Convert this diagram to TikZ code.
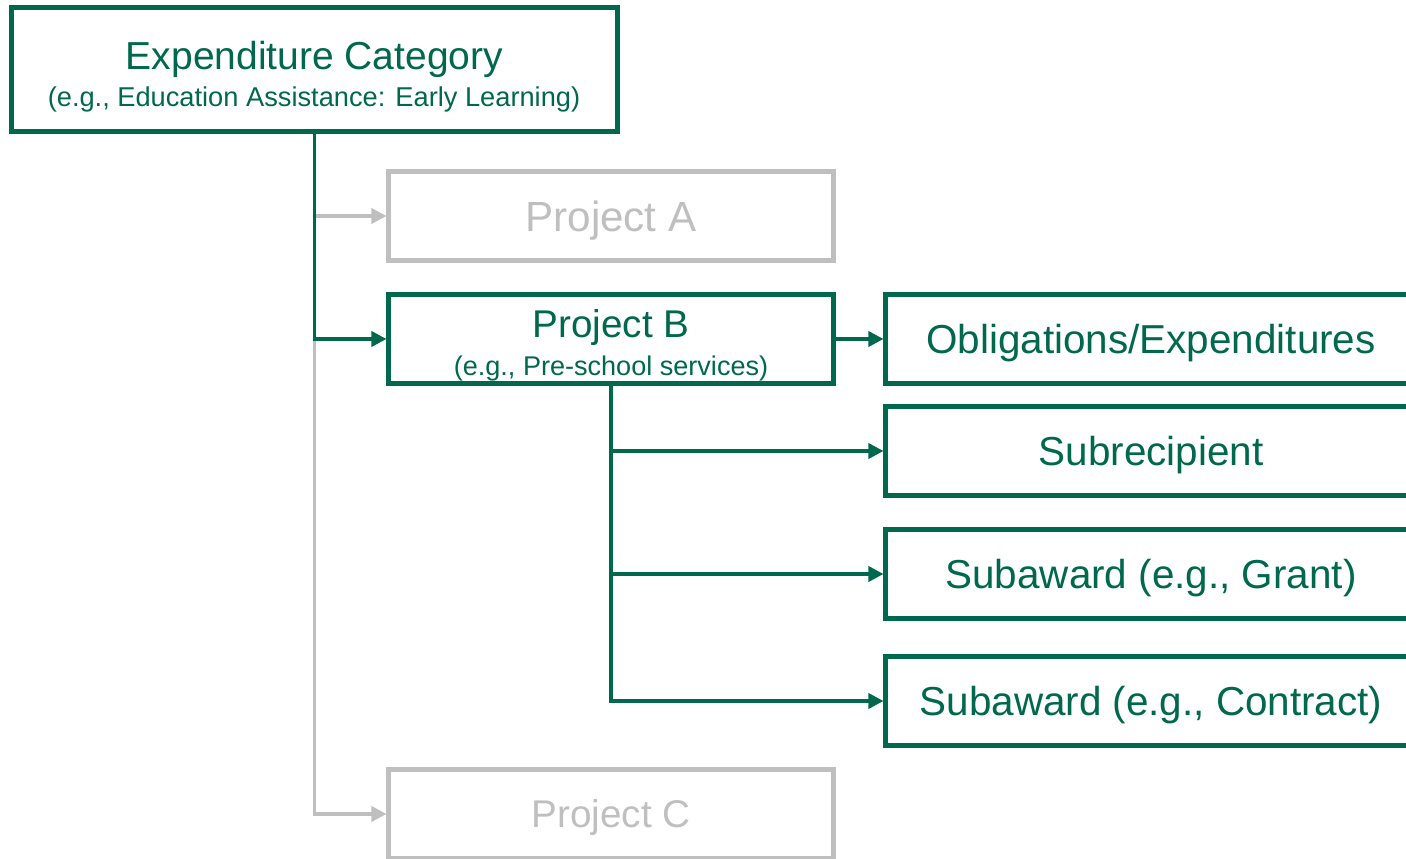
\documentclass[tikz,border=0pt]{standalone}
\usepackage{fontspec}
\setmainfont{Liberation Sans}
\usepackage{tikz}
\usetikzlibrary{arrows.meta,positioning}
\definecolor{darkgreen}{RGB}{0,104,76}
\definecolor{lightgrey}{RGB}{191,191,191}

\begin{document}
\begin{tikzpicture}[
    box/.style={draw, line width=2.3pt, minimum width=8.9cm, minimum height=1.78cm, inner sep=0pt, text depth=0pt},
    greenbox/.style={box, draw=darkgreen, text=darkgreen},
    greybox/.style={box, draw=lightgrey, text=lightgrey},
    rightbox/.style={greenbox, minimum width=10.62cm, text height=16.5pt, font=\fontsize{23}{27}\selectfont},
    link/.style={line width=2pt, -{Triangle[length=0.3cm, width=0.3cm]}}]
      \useasboundingbox (0, 0) rectangle (28.12, -17.18);
      \clip (0, 0) rectangle (28.12, -17.18);

      % boxes
      \node[greenbox, minimum width=12.12cm, minimum height=2.48cm] (exp) at (6.29, -1.39) {};
      \node[greybox, text height=17.2pt, font=\fontsize{24}{28}\selectfont] (pa) at (12.22, -4.32) {Project A};
      \node[greenbox] (pb) at (12.22, -6.78) {};
      \node[greybox, text height=15.8pt, font=\fontsize{22}{26}\selectfont] (pc) at (12.22, -16.28) {Project C};
      \node[rightbox] (obl) at (23.02, -6.78) {Obligations/Expenditures};
      \node[rightbox] (sub) at (23.02, -9.02) {Subrecipient};
      \node[rightbox] (grant) at (23.02, -11.48) {Subaward (e.g., Grant)};
      \node[rightbox] (contract) at (23.02, -14.02) {Subaward (e.g., Contract)};

      % two-line texts
      \node[anchor=base, text=darkgreen, font=\fontsize{22.2}{26}\selectfont] (exptitle) at (6.29, -1.40) {Expenditure Category};
      \node[anchor=base, text=darkgreen, font=\fontsize{15.5}{18}\selectfont] (expnote) at (6.28, -2.14) {(e.g., Education Assistance: Early Learning)};
      \node[anchor=base, text=darkgreen, font=\fontsize{22}{26}\selectfont] (pbtitle) at (12.22, -6.74) {Project B};
      \node[anchor=base, text=darkgreen, font=\fontsize{15.4}{18}\selectfont] (pbnote) at (12.22, -7.50) {(e.g., Pre-school services)};

      % grey connectors
      \draw[link, lightgrey] (exp.south |- pa.west) -- (pa.west);
      \draw[link, lightgrey] (exp.south |- pb.west) |- (pc.west);

      % green connectors
      \draw[link, darkgreen] (exp.south) |- (pb.west);
      \draw[link, darkgreen] (pb.east) -- (obl.west);
      \draw[link, darkgreen] (pb.south) |- (contract.west);
      \draw[link, darkgreen] (pb.south |- sub.west) -- (sub.west);
      \draw[link, darkgreen] (pb.south |- grant.west) -- (grant.west);

    \end{tikzpicture}
\end{document}
